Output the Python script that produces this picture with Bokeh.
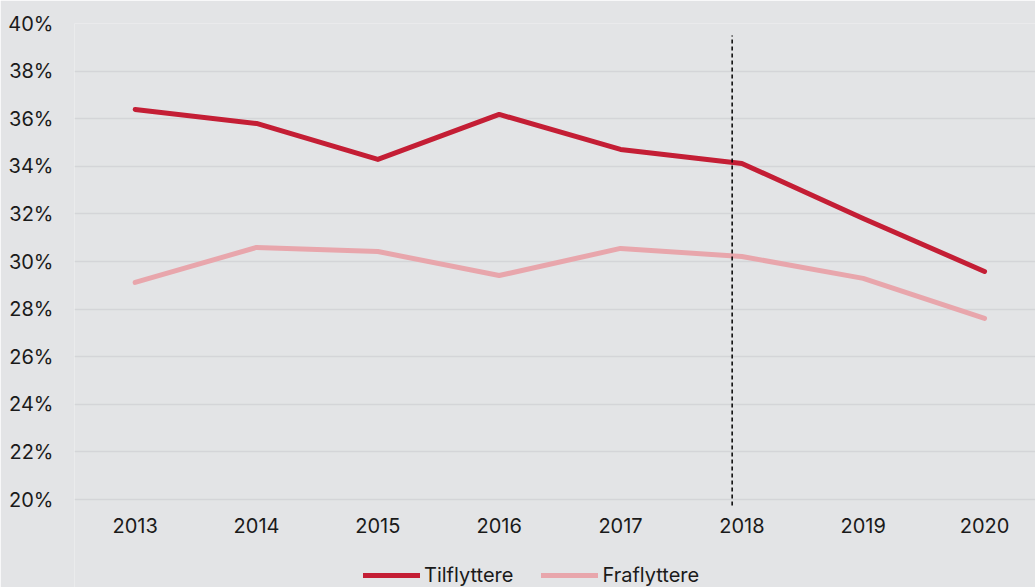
from bokeh.plotting import figure
from bokeh.models import Range1d, FixedTicker, PrintfTickFormatter, Legend, LegendItem
from bokeh.embed import file_html
from bokeh.resources import INLINE

years = [2013, 2014, 2015, 2016, 2017, 2018, 2019, 2020]
tilflyttere = [36.39, 35.80, 34.29, 36.18, 34.71, 34.12, 31.81, 29.58]
fraflyttere = [29.12, 30.59, 30.42, 29.41, 30.55, 30.21, 29.29, 27.61]
y_ticks = [20, 22, 24, 26, 28, 30, 32, 34, 36, 38, 40]
marker_year = 2017.92
marker_span = [19.75, 39.5]

BG = "#e3e4e6"
FONT = "Inter"

# frame runs to the bottom of the page; 20% baseline sits at 476px below the top
Y_MIN = 20 - 88 / 23.8

p = figure(output_backend="svg", toolbar_location=None,
           x_range=Range1d(2012.5, 2020.42), y_range=Range1d(Y_MIN, 40),
           frame_width=961, frame_height=564,
           min_border_left=74, min_border_top=23, min_border_right=0, min_border_bottom=0)
p.background_fill_color = BG
p.border_fill_color = BG
p.outline_line_color = None

p.xgrid.grid_line_color = None
p.ygrid.grid_line_color = "#d4d5d8"
p.ygrid.grid_line_width = 1.5

p.yaxis.ticker = FixedTicker(ticks=y_ticks)
p.yaxis.formatter = PrintfTickFormatter(format="%d%%")
p.xaxis.ticker = FixedTicker(ticks=years)
p.xaxis.fixed_location = 20
for ax in (p.xaxis, p.yaxis):
    ax.axis_line_color = None
    ax.major_tick_line_color = None
    ax.minor_tick_line_color = None
    ax.major_tick_out = 0
    ax.major_tick_in = 0
    ax.minor_tick_out = 0
    ax.minor_tick_in = 0
    ax.major_label_text_font = FONT
    ax.major_label_text_font_size = "20px"
    ax.major_label_text_color = "#1a1a1a"
p.yaxis.major_label_standoff = 21
p.xaxis.major_label_standoff = 18

r1 = p.line(years, tilflyttere, line_color="#c41e35", line_width=5, line_join="round", line_cap="round")
r2 = p.line(years, fraflyttere, line_color="#e8a6ac", line_width=5, line_join="round", line_cap="round")
p.line([marker_year, marker_year], marker_span, line_color="black", line_width=1.5, line_dash="4 3")

legend = Legend(items=[LegendItem(label="Tilflyttere", renderers=[r1]),
                       LegendItem(label="Fraflyttere", renderers=[r2])],
                orientation="horizontal", location=(289, 0),
                glyph_width=57, glyph_height=22, label_standoff=4, spacing=28,
                label_text_font=FONT, label_text_font_size="20px", label_text_color="#1a1a1a",
                background_fill_alpha=0, border_line_color=None, padding=0, margin=0)
p.add_layout(legend, "center")

open("out.html", "w").write(file_html(p, INLINE))
